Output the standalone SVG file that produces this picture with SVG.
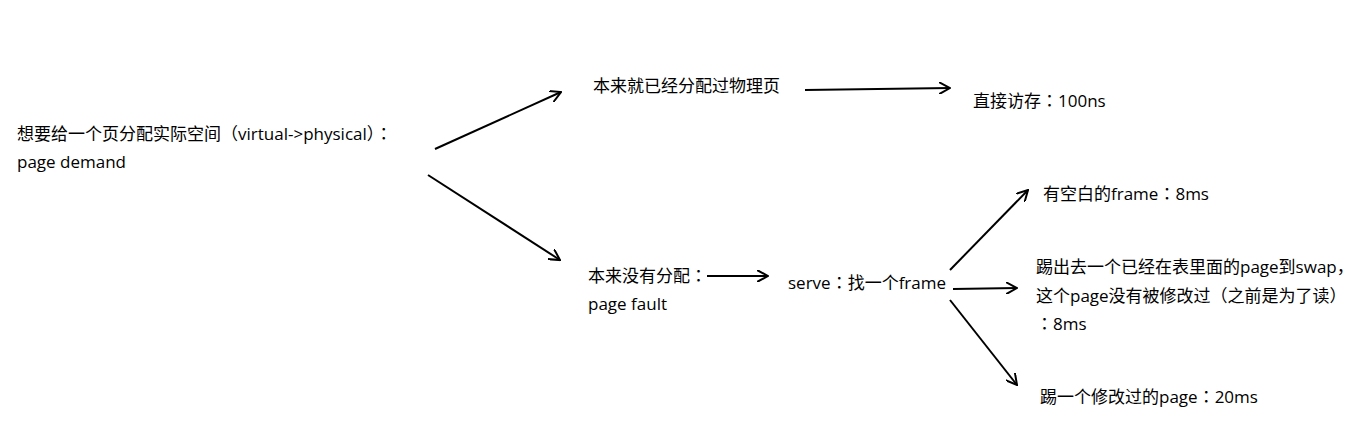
<svg xmlns="http://www.w3.org/2000/svg" width="1368" height="444" viewBox="0 0 1368 444">
<style>
text{font-family:"Open Sans","Noto Sans CJK SC",sans-serif;font-size:17px;fill:#000}
.k{font-family:"Noto Sans CJK JP",sans-serif}
.c line{stroke:#000;stroke-width:2;fill:none;marker-end:url(#a)}
</style>
<defs>
<marker id="a" viewBox="0 0 12 12" refX="11" refY="6" markerWidth="12" markerHeight="12" markerUnits="userSpaceOnUse" orient="auto">
<path d="M0,0 L11,6 L0,12" fill="none" stroke="#000" stroke-width="2"/>
</marker>
</defs>
<rect width="1368" height="444" fill="#fff"/>
<g id="n-demand"><text x="17" y="140">想要给一个页分配实际空间（virtual-&gt;physical）<tspan class="k">：</tspan></text><text x="17" y="168">page demand</text></g>
<g id="n-allocated"><text x="593" y="92">本来就已经分配过物理页</text></g>
<g id="n-direct"><text x="973" y="107">直接访存<tspan class="k">：</tspan>100ns</text></g>
<g id="n-fault"><text x="588" y="282">本来没有分配<tspan class="k">：</tspan></text><text x="588" y="310">page fault</text></g>
<g id="n-serve"><text x="788" y="289">serve<tspan class="k">：</tspan>找一个frame</text></g>
<g id="n-free"><text x="1043" y="200">有空白的frame<tspan class="k">：</tspan>8ms</text></g>
<g id="n-evict"><text x="1036" y="273">踢出去一个已经在表里面的page到swap，</text><text x="1036" y="302">这个page没有被修改过（之前是为了读）</text><text x="1036" y="330"><tspan class="k">：</tspan>8ms</text></g>
<g id="n-dirty"><text x="1040" y="403">踢一个修改过的page<tspan class="k">：</tspan>20ms</text></g>
<g class="c" id="connectors">
<line x1="435" y1="149" x2="561" y2="92"/>
<line x1="428" y1="175" x2="560" y2="260"/>
<line x1="805" y1="90" x2="950" y2="88"/>
<line x1="707" y1="276" x2="768" y2="276"/>
<line x1="950" y1="270" x2="1028" y2="190"/>
<line x1="953" y1="289" x2="1017" y2="288"/>
<line x1="950" y1="300" x2="1017" y2="385"/>
</g>
</svg>
